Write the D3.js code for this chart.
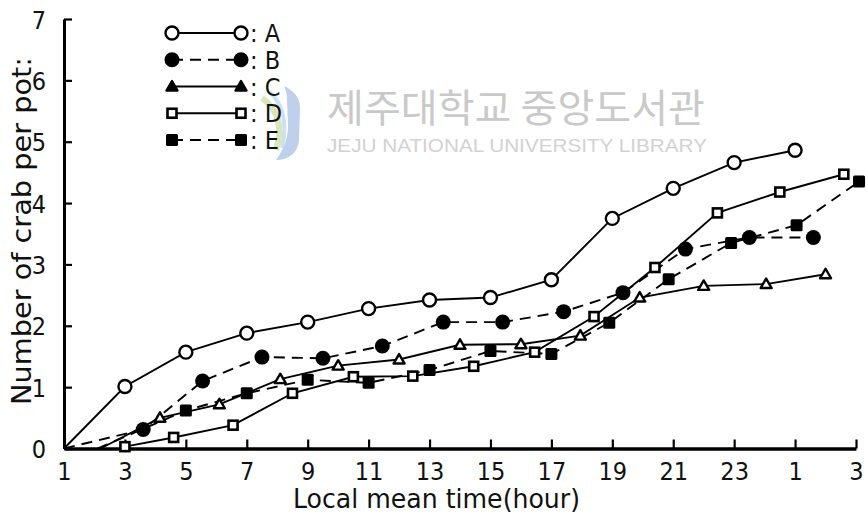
<!DOCTYPE html>
<html>
<head>
<meta charset="utf-8">
<script src="https://cdn.jsdelivr.net/npm/d3@7"></script>
<style>
  html, body { margin: 0; padding: 0; background: #fff; }
  svg { display: block; }
  .lbl { font-family: "Liberation Sans Narrow", "DejaVu Sans Condensed", "Liberation Sans", sans-serif; fill: #111; }
</style>
</head>
<body>
<svg id="chart" width="868" height="518"></svg>
<script>
// Catch per pot over the local mean time of day (hours 1 .. 27, i.e. 1 h to 3 h next day)
const hoursA  = [1, 3, 5, 7, 9, 11, 13, 15, 17, 19, 21, 23, 25];
const valuesA = [0, 1.01, 1.57, 1.88, 2.06, 2.28, 2.42, 2.46, 2.75, 3.75, 4.24, 4.66, 4.86];

const hoursB  = [1, 3.6, 5.55, 7.5, 9.5, 11.45, 13.45, 15.4, 17.4, 19.35, 21.4, 23.5, 25.6];
const valuesB = [0, 0.31, 1.10, 1.49, 1.47, 1.67, 2.06, 2.06, 2.23, 2.54, 3.25, 3.44, 3.44];

const hoursC  = [2.2, 4.15, 6.1, 8.1, 10, 12, 14, 16, 17.95, 19.9, 22, 24.05, 26];
const valuesC = [0, 0.5, 0.72, 1.13, 1.35, 1.45, 1.69, 1.70, 1.84, 2.46, 2.65, 2.68, 2.84];

const hoursD  = [3, 4.6, 6.55, 8.5, 10.5, 12.45, 14.45, 16.45, 18.4, 20.4, 22.45, 24.5, 26.6];
const valuesD = [0.03, 0.18, 0.38, 0.90, 1.17, 1.18, 1.34, 1.57, 2.15, 2.95, 3.84, 4.18, 4.47];

const hoursE  = [2.1, 5, 7, 9, 11, 13, 15, 17, 18.9, 20.85, 22.9, 25.05, 27.1];
const valuesE = [0, 0.62, 0.90, 1.12, 1.07, 1.28, 1.59, 1.54, 2.05, 2.76, 3.35, 3.64, 4.35];

const seriesNames = ["A", "B", "C", "D", "E"];
const xTicks = [1, 3, 5, 7, 9, 11, 13, 15, 17, 19, 21, 23, 25, 27];
const xTickLabels = ["1", "3", "5", "7", "9", "11", "13", "15", "17", "19", "21", "23", "1", "3"];
const yTicks = [0, 1, 2, 3, 4, 5, 6, 7];

const xTitle = "Local mean time(hour)";
const yTitle = "Number of crab per pot:";

const svg = d3.select("#chart");

const x = d3.scaleLinear().domain([1, 27]).range([64, 856]);
const y = d3.scaleLinear().domain([0, 7]).range([448.5, 19]);

// --- faint library watermark behind the plot ---
const wm = svg.append("g");
wm.append("path")
  .attr("d", "M284,86 C292,90 300,96 300,108 L299,140 C298,152 290,160 276,160 C283,150 288,140 288,126 L287,100 C287,94 286,90 284,86 Z")
  .attr("fill", "#a9c0e6").attr("opacity", 0.75);
wm.append("path")
  .attr("d", "M262,98 C276,108 284,124 276,150")
  .attr("fill", "none").attr("stroke", "#cfe0a8").attr("stroke-width", 6).attr("opacity", 0.8);
wm.append("path")
  .attr("d", "M270,92 C282,104 288,120 282,148")
  .attr("fill", "none").attr("stroke", "#b9d3e8").attr("stroke-width", 4).attr("opacity", 0.7);
wm.append("text")
  .attr("x", 327).attr("y", 122)
  .attr("textLength", 378).attr("lengthAdjust", "spacingAndGlyphs")
  .style("font-family", "'Noto Sans CJK KR', sans-serif")
  .style("font-size", "39px").style("fill", "#c9c9c9")
  .text("제주대학교 중앙도서관");
wm.append("text")
  .attr("x", 327).attr("y", 152)
  .attr("textLength", 380).attr("lengthAdjust", "spacingAndGlyphs")
  .style("font-family", "'Liberation Sans', sans-serif")
  .style("font-size", "19px").style("fill", "#d2d2d2")
  .text("JEJU NATIONAL UNIVERSITY  LIBRARY");

// --- axes ---
const yAxis = d3.axisLeft(y).tickValues(yTicks).tickSizeInner(-8).tickSizeOuter(0).tickPadding(18).tickFormat(d3.format("d"));
const gy = svg.append("g").attr("transform", "translate(64,0)").call(yAxis);
gy.select(".domain").attr("stroke", "#000").attr("stroke-width", 3);
gy.selectAll(".tick line").attr("stroke", "#000").attr("stroke-width", 2.2);
gy.selectAll(".tick text").attr("class", "lbl").style("font-size", "25px").attr("dy", "0.36em");

const xAxis = d3.axisBottom(x).tickValues(xTicks).tickSizeInner(-9).tickSizeOuter(0).tickPadding(18)
  .tickFormat((d, i) => xTickLabels[i]);
const gx = svg.append("g").attr("transform", "translate(0,448.5)").call(xAxis);
gx.select(".domain").attr("stroke", "#000").attr("stroke-width", 3.5);
gx.selectAll(".tick line").attr("stroke", "#000").attr("stroke-width", 2.2);
gx.selectAll(".tick text").attr("class", "lbl").style("font-size", "25px").attr("dy", "0.55em");

// axis titles
svg.append("text").attr("class", "lbl")
  .attr("x", 293).attr("y", 508)
  .attr("textLength", 287).attr("lengthAdjust", "spacingAndGlyphs")
  .style("font-size", "26px")
  .text(xTitle);
svg.append("text").attr("class", "lbl")
  .attr("transform", "translate(31,405) rotate(-90)")
  .attr("textLength", 348).attr("lengthAdjust", "spacingAndGlyphs")
  .style("font-size", "26px")
  .text(yTitle);

// --- series ---
const series = [
  { name: "A", hours: hoursA, values: valuesA, dash: null,   marker: "openCircle",   legendMarker: "openCircle" },
  { name: "B", hours: hoursB, values: valuesB, dash: "11,7", marker: "filledCircle", legendMarker: "filledCircle" },
  { name: "C", hours: hoursC, values: valuesC, dash: null,   marker: "triangle",     legendMarker: "filledTriangle" },
  { name: "D", hours: hoursD, values: valuesD, dash: null,   marker: "openSquare",   legendMarker: "openSquare" },
  { name: "E", hours: hoursE, values: valuesE, dash: "11,7", marker: "filledSquare", legendMarker: "filledSquare" }
];

function drawMarker(g, type, cx, cy) {
  if (type === "openCircle") {
    g.append("circle").attr("cx", cx).attr("cy", cy).attr("r", 6.5)
      .attr("fill", "#fff").attr("stroke", "#000").attr("stroke-width", 2.4);
  } else if (type === "filledCircle") {
    g.append("circle").attr("cx", cx).attr("cy", cy).attr("r", 7.5).attr("fill", "#000");
  } else if (type === "triangle" || type === "filledTriangle") {
    g.append("path").attr("d", `M${cx},${cy - 5.5} L${cx + 5.5},${cy + 4} L${cx - 5.5},${cy + 4} Z`)
      .attr("fill", type === "triangle" ? "#fff" : "#000")
      .attr("stroke", "#000").attr("stroke-width", 2.4).attr("stroke-linejoin", "round");
  } else if (type === "openSquare") {
    g.append("rect").attr("x", cx - 4.5).attr("y", cy - 4.5).attr("width", 9).attr("height", 9)
      .attr("fill", "#fff").attr("stroke", "#000").attr("stroke-width", 2.6);
  } else if (type === "filledSquare") {
    g.append("rect").attr("x", cx - 6).attr("y", cy - 6).attr("width", 12).attr("height", 12)
      .attr("rx", 1.5).attr("fill", "#000");
  }
}

const line = d3.line().x(d => x(d[0])).y(d => y(d[1]));

series.forEach(s => {
  const pts = s.hours.map((h, i) => [h, s.values[i]]);
  svg.append("path").datum(pts)
    .attr("d", line)
    .attr("fill", "none").attr("stroke", "#000").attr("stroke-width", 1.9)
    .attr("stroke-dasharray", s.dash);
});
series.forEach(s => {
  const g = svg.append("g");
  s.hours.forEach((h, i) => {
    if (s.values[i] > 0) drawMarker(g, s.marker, x(h), y(s.values[i]));
  });
});

// --- legend ---
const legendY = d3.scalePoint().domain(seriesNames).range([33, 140]);
series.forEach(s => {
  const ly = legendY(s.name);
  const g = svg.append("g");
  g.append("line").attr("x1", 172).attr("x2", 241).attr("y1", ly).attr("y2", ly)
    .attr("stroke", "#000").attr("stroke-width", 1.9).attr("stroke-dasharray", s.dash);
  drawMarker(g, s.legendMarker, 172, ly);
  drawMarker(g, s.legendMarker, 241, ly);
  g.append("text").attr("class", "lbl").attr("x", 250).attr("y", ly + 9)
    .style("font-size", "25px").text(": " + s.name);
});
</script>
</body>
</html>
